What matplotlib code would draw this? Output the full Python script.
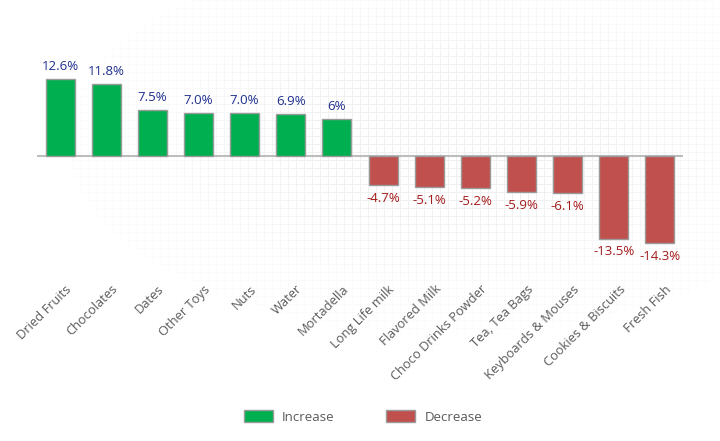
import numpy as np
import matplotlib
matplotlib.use("Agg")
import matplotlib.pyplot as plt
import matplotlib.transforms as mtransforms
from matplotlib.patches import Patch

categories = ["Dried Fruits", "Chocolates", "Dates", "Other Toys", "Nuts", "Water",
              "Mortadella", "Long Life milk", "Flavored Milk", "Choco Drinks Powder",
              "Tea, Tea Bags", "Keyboards & Mouses", "Cookies & Biscuits", "Fresh Fish"]
values = [12.6, 11.8, 7.5, 7.0, 7.0, 6.9, 6.0, -4.7, -5.1, -5.2, -5.9, -6.1, -13.5, -14.3]
value_labels = ["12.6%", "11.8%", "7.5%", "7.0%", "7.0%", "6.9%", "6%",
                "-4.7%", "-5.1%", "-5.2%", "-5.9%", "-6.1%", "-13.5%", "-14.3%"]
series_names = ["Increase", "Decrease"]

FONT = ["Open Sans", "DejaVu Sans"]
plt.rcParams["font.family"] = FONT

GREEN = "#00b050"
RED = "#c0504d"
EDGE = "#9a9a9a"
POS_TXT = "#1f2f8f"
NEG_TXT = "#a31a1a"
TICK_TXT = "#5a5a5a"

W, H = 720, 441
fig = plt.figure(figsize=(W / 100, H / 100), dpi=100)

# faint fading grid background (decoration)
bg = fig.add_axes([0, 0, 1, 1], zorder=-10)
bg.set_axis_off()
yy, xx = np.mgrid[0:H, 0:W]
gridmask = ((xx % 8) == 0) | ((yy % 8) == 0)
fade = np.exp(-(((xx - 450) / 260.0) ** 2 + ((yy - 140) / 130.0) ** 2))
fade = np.clip(fade * 1.3, 0, 1)
alpha = gridmask * fade * 0.13
img = np.zeros((H, W, 4))
img[..., :3] = 0.55
img[..., 3] = alpha
bg.imshow(img, extent=[0, W, H, 0], interpolation="nearest", aspect="auto")
bg.set_xlim(0, W)
bg.set_ylim(H, 0)

# main axes
left, right = 37, 683
top, bottom = 40, 266
ax = fig.add_axes([left / W, 1 - bottom / H, (right - left) / W, (bottom - top) / H])
ax.patch.set_alpha(0)

x = np.arange(len(categories))
colors = [GREEN if v >= 0 else RED for v in values]
ax.bar(x, values, width=0.63, color=colors, edgecolor=EDGE, linewidth=1.0, zorder=3)
ax.axhline(0, color="#bdbdbd", linewidth=1.5, zorder=2)

for xi, v, lab in zip(x, values, value_labels):
    if v >= 0:
        ax.annotate(lab, (xi, v), xytext=(0, 4.5), textcoords="offset points",
                    ha="center", va="bottom", fontsize=9.5, color=POS_TXT)
    else:
        ax.annotate(lab, (xi, v), xytext=(0, -5), textcoords="offset points",
                    ha="center", va="top", fontsize=9.5, color=NEG_TXT)

ax.set_xlim(-0.5, len(categories) - 0.5)
ax.set_ylim(-18, 19)
ax.set_yticks([])
ax.set_xticks(x)
ax.set_xticklabels(categories, rotation=45, ha="right", rotation_mode="anchor",
                   fontsize=9.3, color=TICK_TXT)
ax.tick_params(axis="x", length=0, pad=12)
shift = mtransforms.ScaledTranslation(5 / 100, 0, fig.dpi_scale_trans)
for lbl in ax.get_xticklabels():
    lbl.set_transform(lbl.get_transform() + shift)
for s in ax.spines.values():
    s.set_visible(False)

handles = [Patch(facecolor=GREEN, edgecolor=EDGE, linewidth=1.0),
           Patch(facecolor=RED, edgecolor=EDGE, linewidth=1.0)]
leg = fig.legend(handles, series_names, loc="center", bbox_to_anchor=(363 / W, 1 - 417 / H),
                 ncol=2, frameon=False, fontsize=9.5, handlelength=2.2, handleheight=1.0,
                 handletextpad=0.7, columnspacing=3.9)
for t in leg.get_texts():
    t.set_color(TICK_TXT)

fig.savefig("out.png", dpi=100)
